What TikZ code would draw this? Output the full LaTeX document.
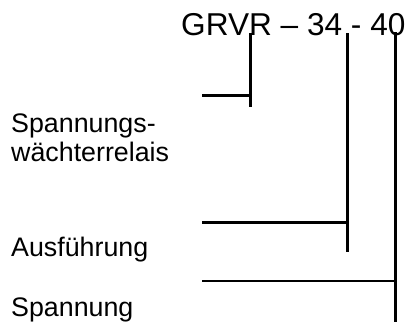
\documentclass[tikz,border=0pt]{standalone}
\usepackage{fontspec}
\setmainfont{Liberation Sans}
\usetikzlibrary{positioning}

\begin{document}
\begin{tikzpicture}[x=1pt, y=-1pt,
    lbl/.style={anchor=base west, inner sep=0pt, font=\fontsize{26.8}{29}\selectfont, align=left},
    leader/.style={line width=3pt}]
    \useasboundingbox (0,0) rectangle (405,322);

    % type code
    \node[anchor=base west, inner sep=0pt, font=\fontsize{31.6}{36}\selectfont] (code) at (181,35) {GRVR – 34 - 40};

    % labels
    \node[lbl] (relais) at (11,161) {Spannungs-\\wächterrelais};
    \node[lbl] (ausf) at (11,256) {Ausführung};
    \node[lbl] (spann) at (11,316) {Spannung};

    % leader lines
    \coordinate (g1) at (250,33);  \coordinate (g1e) at (250,107); \coordinate (h1) at (202,95);
    \coordinate (g2) at (347,33);  \coordinate (g2e) at (347,252); \coordinate (h2) at (202,222);
    \coordinate (g3) at (395,32);  \coordinate (g3e) at (395,322); \coordinate (h3) at (202,281);

    \draw[leader] (g1) -- (g1e);
    \draw[leader] (h1) -- (h1 -| g1);
    \draw[leader] (g2) -- (g2e);
    \draw[leader] (h2) -- (h2 -| g2);
    \draw[leader] (g3) -- (g3e);
    \draw[line width=2pt] (h3) -- (h3 -| g3);
\end{tikzpicture}
\end{document}
